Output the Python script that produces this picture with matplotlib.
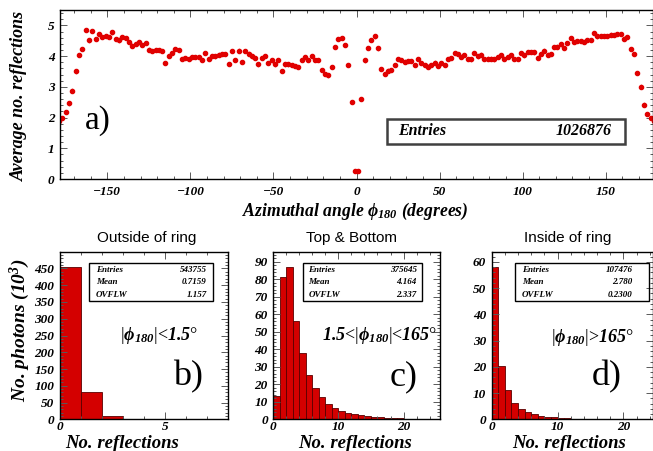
import matplotlib
matplotlib.use("Agg")
import matplotlib.pyplot as plt
from matplotlib.patches import Rectangle
from matplotlib.ticker import MultipleLocator, FixedLocator
import numpy as np

plt.rcParams.update({
    "font.family": "serif", "font.serif": ["Liberation Serif", "DejaVu Serif"],
    "font.weight": "bold", "font.style": "italic",
    "mathtext.fontset": "custom",
    "mathtext.rm": "Liberation Serif:bold",
    "mathtext.it": "Liberation Serif:bold:italic",
    "mathtext.bf": "Liberation Serif:bold",
})

W, H = 653, 451

# ---- data: top panel, average number of reflections vs phi (2 deg bins) ----
phi = np.arange(-179, 180, 2)
avg_refl = [
    1.88, 1.98, 2.17, 2.46, 2.88, 3.50, 4.04, 4.23, 4.84, 4.51,
    4.82, 4.56, 4.72, 4.61, 4.66, 4.61, 4.77, 4.56, 4.51, 4.61,
    4.59, 4.45, 4.34, 4.39, 4.46, 4.37, 4.42, 4.21, 4.17,
    4.19, 4.19, 4.16, 3.78, 4.01, 4.10, 4.24, 4.19, 3.91, 3.94,
    3.91, 3.96, 3.98, 3.97, 3.87, 4.10, 3.90, 4.01, 3.99, 4.05,
    4.07, 4.07, 3.74, 4.16, 3.88, 4.18, 3.80, 4.16, 4.08, 3.99,
    3.94, 3.73, 3.94, 4.01, 3.77, 3.86, 3.73, 3.87, 3.51, 3.73,
    3.73, 3.70, 3.67, 3.65, 3.88, 3.96, 3.88, 3.99, 3.87, 3.87,
    3.54, 3.42, 3.37, 3.65, 4.29, 4.56, 4.59, 4.36, 3.70, 2.51,
    0.27, 0.27,
    2.60, 3.86, 4.27, 4.53, 4.64, 4.25, 3.59, 3.42, 3.53, 3.55,
    3.72, 3.90, 3.87, 3.82, 3.83, 3.83, 3.72, 3.90, 3.78, 3.72,
    3.66, 3.72, 3.79, 3.68, 3.76, 3.70, 3.90, 3.94, 4.09,
    4.07, 3.96, 4.03, 3.90, 3.89, 4.10, 3.99, 4.05, 3.90, 3.92,
    3.92, 3.89, 3.98, 4.04, 3.92, 3.97, 4.03, 3.91, 3.91, 4.10,
    4.02, 4.13, 4.13, 4.12, 3.95, 4.06, 4.18, 4.05, 4.07, 4.30,
    4.31, 4.38, 4.27, 4.43, 4.59, 4.46, 4.48, 4.50, 4.46, 4.52,
    4.53, 4.76, 4.64, 4.65, 4.65, 4.66, 4.70, 4.69, 4.71, 4.72,
    4.57, 4.61, 4.24, 4.06, 3.45, 3.01, 2.42, 2.12, 1.98, 1.90,
]

# ---- data: histograms of number of reflections (10^3 photons per bin) ----
b_counts = [455.0, 80.4, 10.8, 2.0, 0.4, 0.1, 0.0, 0.0]
c_counts = [13.5, 81.4, 87.0, 56.3, 37.7, 25.3, 17.7, 12.5, 8.9, 6.3,
            4.7, 3.8, 3.0, 2.3, 1.8, 1.4, 1.1, 0.9, 0.7, 0.55,
            0.45, 0.35, 0.28, 0.22, 0.18, 0.14]
d_counts = [58.1, 20.4, 11.1, 6.3, 3.9, 2.7, 1.9, 1.4, 1.0, 0.7,
            0.5, 0.4, 0.3, 0.25, 0.2, 0.15, 0.1, 0.08, 0.06, 0.05,
            0.04, 0.03, 0.02, 0.02]

titles = ["Outside of ring", "Top & Bottom", "Inside of ring"]
stats = [("543755", "0.7159", "1.157"),
         ("375645", "4.164", "2.337"),
         ("107476", "2.780", "0.2300")]
cuts = [r"|$\mathrm{\phi}_{\mathit{180}}$|<$\mathit{1.5}$°",
        r"$\mathit{1.5}$<|$\mathrm{\phi}_{\mathit{180}}$|<$\mathit{165}$°",
        r"|$\mathrm{\phi}_{\mathit{180}}$|>$\mathit{165}$°"]
tags = ["b)", "c)", "d)"]


def px_ax(l, t, r, b):
    return fig.add_axes([l / W, 1 - b / H, (r - l) / W, (b - t) / H])


def ftxt(x, y, s, **kw):
    return fig.text(x / W, 1 - y / H, s, **kw)


def root_style(ax, xmaj, xmin, ymaj, ymin, ymax_lab, fs, xpad):
    ax.xaxis.set_major_locator(MultipleLocator(xmaj))
    ax.xaxis.set_minor_locator(MultipleLocator(xmin))
    ax.yaxis.set_major_locator(FixedLocator(np.arange(0, ymax_lab + 1e-9, ymaj)))
    ax.yaxis.set_minor_locator(MultipleLocator(ymin))
    ax.tick_params(which="both", direction="in", top=True, right=True,
                   color="0.35", width=0.7, labelsize=fs)
    ax.tick_params(which="major", length=5)
    ax.tick_params(which="minor", length=2.5)
    ax.tick_params(axis="y", pad=4)
    ax.tick_params(axis="x", pad=xpad)
    for s in ax.spines.values():
        s.set_linewidth(1.0)


fig = plt.figure(figsize=(W / 100, H / 100), dpi=100)

# ---- top panel ----
ax = px_ax(60, 10, 653, 179)
ax.errorbar(phi, avg_refl, yerr=0.07, fmt="o", color="#e00000", ms=3.0,
            ecolor="#f29a9a", elinewidth=0.8, capsize=0, clip_on=True)
ax.set_xlim(-178.5, 178.5)
ax.set_ylim(0, 5.5)
root_style(ax, 50, 10, 1, 0.2, 5, 9.5, 5)
ftxt(355, 211, r"Azimuthal angle $\mathrm{\phi}_{\mathit{180}}$ (degrees)",
     ha="center", va="center", fontsize=12.7)
ftxt(19, 96, "Average no. reflections", ha="center", va="center",
     rotation=90, fontsize=13)
ftxt(98, 121, "a)", ha="center", va="center", fontsize=24,
     style="normal", weight="normal")
fig.patches.append(Rectangle((386.7 / W, 1 - 144.3 / H), (625 - 386.7) / W,
                             25 / H, transform=fig.transFigure, fill=False,
                             edgecolor="0.25", linewidth=1.8))
ftxt(398, 131.5, "Entries", ha="left", va="center", fontsize=11.5)
ftxt(612, 131.5, "1026876", ha="right", va="center", fontsize=11.5)

# ---- bottom panels ----
boxes = [(60, 228), (273.3, 440), (491.7, 653)]
xlims = [8, 25.6, 24.5]
ylims = [500, 95.7, 63.9]
ticks = [(5, 1, 50, 10, 450), (10, 2, 10, 2, 90), (10, 2, 10, 2, 60)]
stat_boxes = [(89.3, 212.7, 96, 206.7), (303.3, 421.7, 308.3, 416.7),
              (515, 649.3, 521.7, 632.3)]
cut_pos = [(159, 335), (380, 335), (592, 337)]
tag_pos = [(188, 377), (404, 377), (607, 377)]
xlab_pos = [122, 355, 569]
counts_all = [b_counts, c_counts, d_counts]

for i in range(3):
    l, r = boxes[i]
    ax = px_ax(l, 251.7, r, 419.3)
    cnt = counts_all[i]
    ax.bar(np.arange(len(cnt)), cnt, width=1.0, align="edge",
           color="#d40000", edgecolor="#5a0000", linewidth=0.6)
    ax.set_xlim(0, xlims[i])
    ax.set_ylim(0, ylims[i])
    root_style(ax, *ticks[i], 9.5, 1)
    ftxt((l + r) / 2 + (3 if i == 0 else -5), 238, titles[i], ha="center",
         va="center", fontsize=11, family="Liberation Sans",
         style="normal", weight="normal")
    ftxt(xlab_pos[i], 444, "No. reflections", ha="center", va="center",
         fontsize=13.5)
    bl, br, tl, tr = stat_boxes[i]
    fig.patches.append(Rectangle((bl / W, 1 - 300.7 / H), (br - bl) / W,
                                 37.4 / H, transform=fig.transFigure,
                                 fill=False, edgecolor="black", linewidth=1.0))
    for j, (name, val) in enumerate(zip(["Entries", "Mean", "OVFLW"], stats[i])):
        ftxt(tl, 270 + 12.5 * j, name, ha="left", va="center", fontsize=6.5)
        ftxt(tr, 270 + 12.5 * j, val, ha="right", va="center", fontsize=6.5)
    ftxt(*cut_pos[i], cuts[i], ha="center", va="center", fontsize=13,
         style="normal", weight="normal")
    ftxt(*tag_pos[i], tags[i], ha="center", va="center", fontsize=26,
         style="normal", weight="normal")

ftxt(20, 330, r"No. photons (10$^{\mathit{3}}$)", ha="center", va="center",
     rotation=90, fontsize=14)

fig.savefig("out.png", dpi=100)
